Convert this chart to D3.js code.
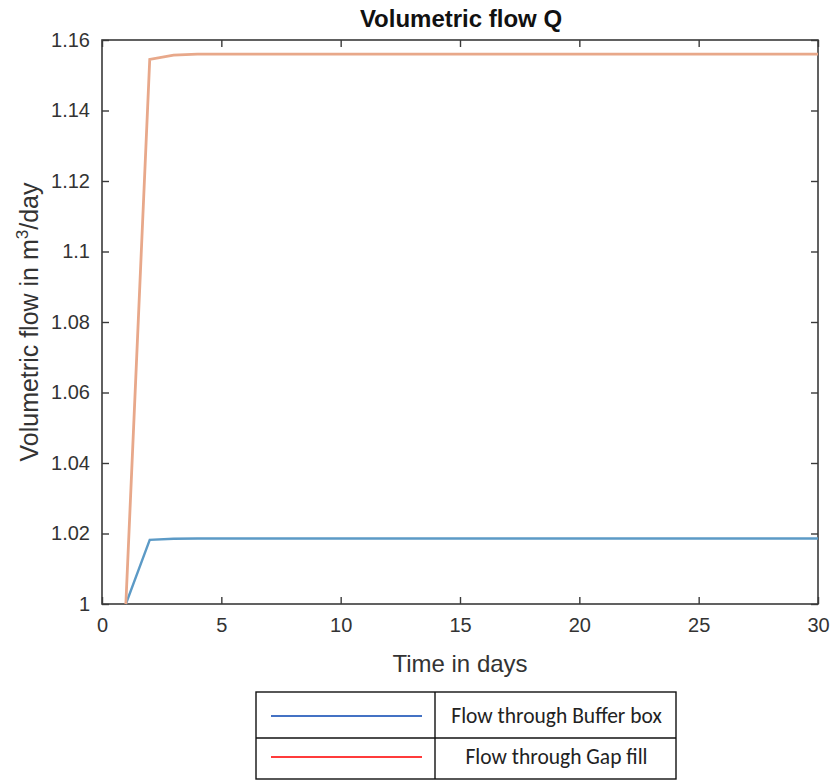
<!DOCTYPE html>
<html><head><meta charset="utf-8">
<script src="https://cdn.jsdelivr.net/npm/d3@7"></script>
<style>body{margin:0;background:#fff;} svg{display:block;}</style>
</head><body>
<svg id="c" width="833" height="780"></svg>
<script>
const bufferDays = [1,2,3,4,30];
const bufferFlow = [1.0,1.0182,1.0185,1.0186,1.0186];
const gapDays = [1,2,3,4,30];
const gapFlow = [1.0,1.1545,1.1557,1.156,1.156];
const xTicks = [0,5,10,15,20,25,30];
const yTicks = [1,1.02,1.04,1.06,1.08,1.1,1.12,1.14,1.16];
const legendLabels = ["Flow through Buffer box","Flow through Gap fill"];
const legendColors = ["#4472c4","#ff3b3b"];

const svg = d3.select("#c");
const L=102,R=818,T=40,B=604;
const x = d3.scaleLinear().domain([0,30]).range([L,R]);
const y = d3.scaleLinear().domain([1,1.16]).range([B,T]);
const axisColor="#3a3a3a";
const font="'Liberation Sans', Arial, sans-serif";

svg.append("rect").attr("x",L).attr("y",T).attr("width",R-L).attr("height",B-T)
  .attr("fill","none").attr("stroke",axisColor).attr("stroke-width",1.6);

const fmtY = d => d===1 ? "1" : String(+d.toFixed(2));
const gx = svg.append("g").attr("transform",`translate(0,${B})`)
  .call(d3.axisBottom(x).tickValues(xTicks).tickSize(-7).tickPadding(14).tickFormat(d3.format("d")));
const gxt = svg.append("g").attr("transform",`translate(0,${T})`)
  .call(d3.axisTop(x).tickValues(xTicks).tickSize(-7).tickFormat(""));
const gy = svg.append("g").attr("transform",`translate(${L},0)`)
  .call(d3.axisLeft(y).tickValues(yTicks).tickSize(-7).tickPadding(12).tickFormat(fmtY));
const gyr = svg.append("g").attr("transform",`translate(${R},0)`)
  .call(d3.axisRight(y).tickValues(yTicks).tickSize(-7).tickFormat(""));
[gx,gxt,gy,gyr].forEach(g=>{
  g.select(".domain").remove();
  g.selectAll(".tick line").attr("stroke",axisColor).attr("stroke-width",1.4);
  g.selectAll("text").attr("font-family",font).attr("font-size",20).attr("fill","#333");
});
gx.selectAll("text").attr("dy","0.71em").attr("y",14);

const line = d3.line().x(d=>x(d[0])).y(d=>y(d[1]));
svg.append("path").datum(bufferDays.map((d,i)=>[d,bufferFlow[i]]))
  .attr("d",line).attr("fill","none").attr("stroke","#5c9ac6").attr("stroke-width",2.4);
svg.append("path").datum(gapDays.map((d,i)=>[d,gapFlow[i]]))
  .attr("d",line).attr("fill","none").attr("stroke","#e8a88a").attr("stroke-width",2.8);

svg.append("text").attr("x",461).attr("y",27).attr("text-anchor","middle")
  .attr("font-family",font).attr("font-size",24).attr("font-weight","bold").attr("fill","#111")
  .text("Volumetric flow Q");
svg.append("text").attr("x",460).attr("y",672).attr("text-anchor","middle")
  .attr("font-family",font).attr("font-size",24).attr("fill","#333").text("Time in days");
const yl = svg.append("text").attr("transform",`translate(38,${(T+B)/2}) rotate(-90)`)
  .attr("text-anchor","middle").attr("font-family",font).attr("font-size",25).attr("fill","#333");
yl.append("tspan").text("Volumetric flow in m");
yl.append("tspan").attr("dy",-10).attr("font-size",17).text("3");
yl.append("tspan").attr("dy",10).text("/day");

const lx0=256,lx1=676,lxm=435,ly0=692,lym=738,ly1=779;
const lg = svg.append("g");
lg.append("rect").attr("x",lx0).attr("y",ly0).attr("width",lx1-lx0).attr("height",ly1-ly0)
  .attr("fill","none").attr("stroke","#111").attr("stroke-width",1.4);
lg.append("line").attr("x1",lxm).attr("x2",lxm).attr("y1",ly0).attr("y2",ly1).attr("stroke","#111").attr("stroke-width",1.4);
lg.append("line").attr("x1",lx0).attr("x2",lx1).attr("y1",lym).attr("y2",lym).attr("stroke","#111").attr("stroke-width",1.4);
const rowsY=[716,757];
legendLabels.forEach((lab,i)=>{
  lg.append("line").attr("x1",271).attr("x2",422).attr("y1",rowsY[i]).attr("y2",rowsY[i])
    .attr("stroke",legendColors[i]).attr("stroke-width",2);
  lg.append("text").attr("x",(lxm+lx1)/2+1).attr("y",rowsY[i]+7).attr("text-anchor","middle")
    .attr("font-family","Carlito, 'Open Sans', 'Noto Sans', sans-serif").attr("font-size",21.5).attr("fill","#222").text(lab);
});
</script>
</body></html>
